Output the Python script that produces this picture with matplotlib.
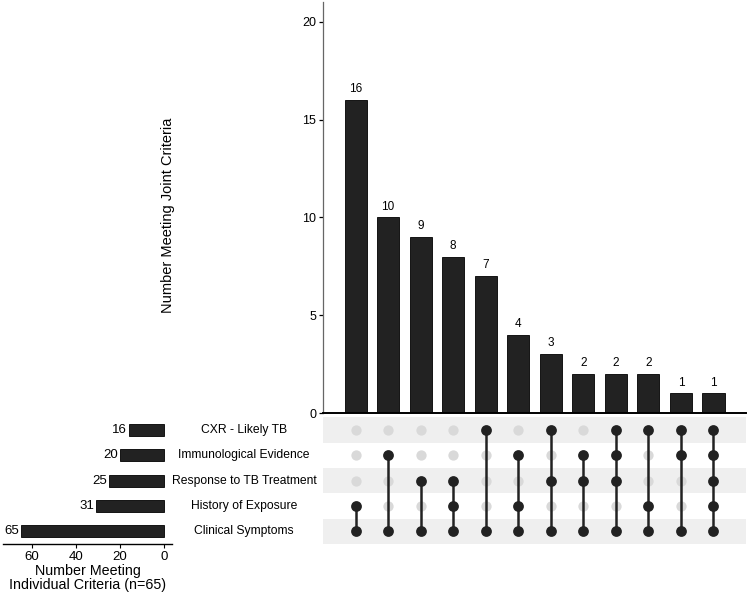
import matplotlib
matplotlib.use('Agg')
import matplotlib.pyplot as plt
import numpy as np

plt.rcParams['font.family'] = ['Liberation Sans', 'DejaVu Sans']

# criteria, top row of the matrix first
criteria = ["CXR - Likely TB", "Immunological Evidence", "Response to TB Treatment",
            "History of Exposure", "Clinical Symptoms"]
set_sizes = [16, 20, 25, 31, 65]

# joint counts and which criteria (row index) make up each intersection
joint_counts = [16, 10, 9, 8, 7, 4, 3, 2, 2, 2, 1, 1]
joint_members = [
    [3, 4],
    [1, 4],
    [2, 4],
    [2, 3, 4],
    [0, 4],
    [1, 3, 4],
    [0, 2, 4],
    [1, 2, 4],
    [0, 1, 2, 4],
    [0, 3, 4],
    [0, 1, 4],
    [0, 1, 2, 3, 4],
]

dark = "#222222"
light = "#d9d9d9"
stripe = "#efefef"

fig = plt.figure(figsize=(7.5, 5.97), dpi=100)

ax_bar = fig.add_axes([0.4307, 0.3082, 0.564, 0.688])
ax_mat = fig.add_axes([0.4307, 0.0888, 0.564, 0.212])
ax_set = fig.add_axes([0.004, 0.0888, 0.2253, 0.212])

n = len(joint_counts)
xs = np.arange(n)
nrows = len(criteria)
ys = nrows - 1 - np.arange(nrows)  # top row at highest y

# intersection bars
ax_bar.bar(xs, joint_counts, width=0.68, color=dark, edgecolor="black", linewidth=0.6)
for x, v in zip(xs, joint_counts):
    ax_bar.text(x, v + 0.25, str(v), ha="center", va="bottom", fontsize=8.5)
ax_bar.set_xlim(-1, 12)
ax_bar.set_ylim(0, 21)
ax_bar.set_yticks([0, 5, 10, 15, 20])
ax_bar.set_xticks([])
for s in ["top", "right"]:
    ax_bar.spines[s].set_visible(False)
ax_bar.spines["left"].set_linewidth(0.9)
ax_bar.spines["left"].set_color("#666666")
ax_bar.spines["bottom"].set_linewidth(1.4)
ax_bar.tick_params(axis="y", labelsize=9, length=3, width=0.9, pad=2)
fig.text(0.224, 0.64, "Number Meeting Joint Criteria", rotation=90,
         ha="center", va="center", fontsize=10.5)

# matrix
for i in range(nrows):
    if i % 2 == 0:
        ax_mat.axhspan(ys[i] - 0.5, ys[i] + 0.5, color=stripe, zorder=0, lw=0)
for x, members in zip(xs, joint_members):
    ax_mat.scatter([x] * nrows, ys, s=55, color=light, zorder=1, lw=0)
    my = [ys[m] for m in members]
    ax_mat.plot([x, x], [min(my), max(my)], color=dark, lw=1.8, zorder=2)
    ax_mat.scatter([x] * len(my), my, s=60, color=dark, zorder=3, lw=0)
ax_mat.set_xlim(-1, 12)
ax_mat.set_ylim(-0.5, nrows - 0.5)
ax_mat.axis("off")

# set size bars
ax_set.barh(ys, set_sizes, height=0.48, color=dark, edgecolor="black", linewidth=0.6)
for y, v in zip(ys, set_sizes):
    ax_set.text(v + 0.8, y, str(v), ha="right", va="center", fontsize=9.5)
ax_set.set_xlim(73.2, -3.6)
ax_set.set_ylim(-0.5, nrows - 0.5)
ax_set.set_xticks([60, 40, 20, 0])
ax_set.set_yticks([])
for s in ["top", "right", "left"]:
    ax_set.spines[s].set_visible(False)
ax_set.spines["bottom"].set_linewidth(1.0)
ax_set.tick_params(axis="x", labelsize=9.5, length=3, pad=2)
ax_set.set_xlabel("Number Meeting\nIndividual Criteria (n=65)", fontsize=10.3, labelpad=1,
                  linespacing=1.0)

# criteria names between set bars and matrix
for y, name in zip(ys, criteria):
    ax_set.text(-36.4, y, name, ha="center", va="center", fontsize=8.7, clip_on=False)

fig.savefig("out.png", dpi=100)
